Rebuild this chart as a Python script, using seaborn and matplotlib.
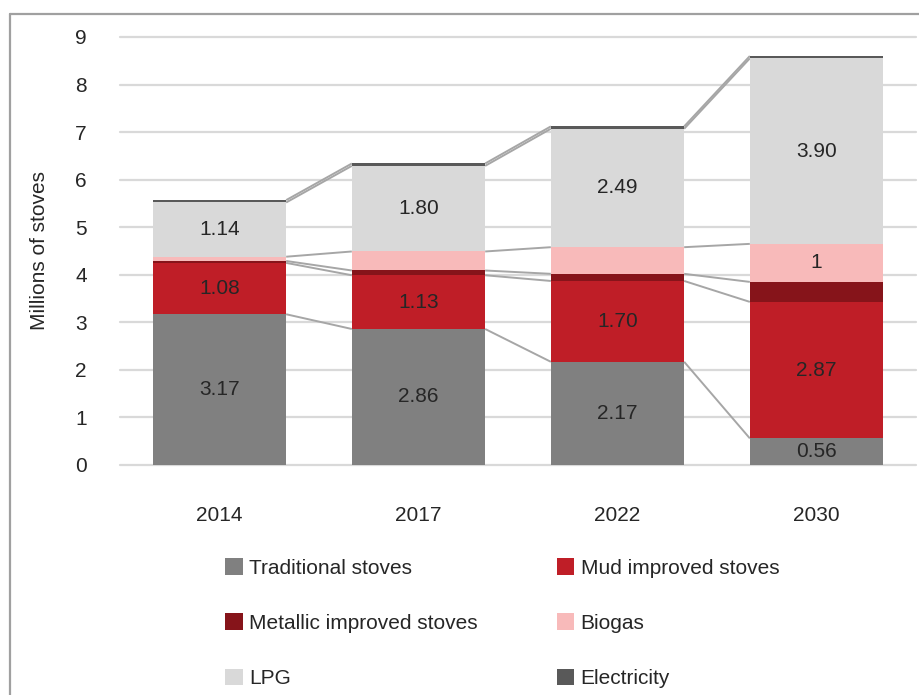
import numpy as np
import pandas as pd
import matplotlib
matplotlib.use("Agg")
import matplotlib.pyplot as plt
from matplotlib.lines import Line2D
from matplotlib.patches import Patch
import seaborn as sns

# Stove stock by type (millions)
years = ["2014", "2017", "2022", "2030"]
traditional = [3.17, 2.86, 2.17, 0.56]
mud_improved = [1.08, 1.13, 1.70, 2.87]
metallic_improved = [0.04, 0.10, 0.15, 0.42]
biogas = [0.09, 0.40, 0.56, 0.80]
lpg = [1.14, 1.80, 2.49, 3.90]
electricity = [0.05, 0.05, 0.05, 0.05]

series_names = ["Traditional stoves", "Mud improved stoves", "Metallic improved stoves",
                "Biogas", "LPG", "Electricity"]
series_values = [traditional, mud_improved, metallic_improved, biogas, lpg, electricity]
colors = ["#808080", "#BF1E27", "#86141A", "#F8BABA", "#D9D9D9", "#595959"]

sns.set_theme(style="white")
plt.rcParams["font.family"] = ["Liberation Sans", "DejaVu Sans"]
text_color = "#262626"
fs = 15

fig = plt.figure(figsize=(9.2, 6.95), dpi=100)
ax = fig.add_axes([120 / 920, (695 - 465) / 695, 796 / 920, 428 / 695])

df = pd.DataFrame({name: vals for name, vals in zip(series_names, series_values)}, index=years)
cum = df.cumsum(axis=1)

bar_w = 0.67
# Stacked bars: draw cumulative totals from the top series down so each layer overlays
for name, col in reversed(list(zip(series_names, colors))):
    sns.barplot(x=years, y=cum[name].values, color=col, width=bar_w,
                saturation=1, ax=ax, zorder=3, linewidth=0)

# Series lines joining the top of each layer between neighbouring bars
for name in series_names:
    tops = cum[name].values
    for i in range(len(years) - 1):
        ax.plot([i + bar_w / 2, i + 1 - bar_w / 2], [tops[i], tops[i + 1]],
                color="#A6A6A6", lw=1.4, zorder=2, solid_capstyle="butt")

# Value labels centred in their segments
labelled = {"Traditional stoves": [0, 1, 2, 3], "Mud improved stoves": [0, 1, 2, 3],
            "LPG": [0, 1, 2, 3], "Biogas": [3]}
for name, idxs in labelled.items():
    for i in idxs:
        v = df[name].iloc[i]
        mid = cum[name].iloc[i] - v / 2
        txt = f"{v:.0f}" if name == "Biogas" else f"{v:.2f}"
        ax.text(i, mid, txt, ha="center", va="center", fontsize=fs, color=text_color, zorder=5)

ax.set_xlim(-0.5, 3.5)
ax.set_ylim(0, 9)
ax.set_yticks(range(0, 10))
for y in range(0, 10):
    ax.axhline(y, color="#D9D9D9", lw=1.6, zorder=1, clip_on=False)
for s in ax.spines.values():
    s.set_visible(False)
ax.tick_params(axis="y", length=0, pad=24, labelsize=fs, labelcolor=text_color)
ax.tick_params(axis="x", length=0, pad=29.5, labelsize=fs, labelcolor=text_color)
ax.set_xlabel("")
ax.set_ylabel("Millions of stoves", fontsize=fs, color=text_color)
ax.yaxis.set_label_coords((49 - 120) / 796, 0.5)

handles = [Patch(facecolor=c, edgecolor="none") for c in colors]
order = [0, 2, 4, 1, 3, 5]
fig.legend([handles[i] for i in order], [series_names[i] for i in order],
           ncol=2, loc="upper left", bbox_to_anchor=(225 / 920, 1 - 558 / 695),
           frameon=False, fontsize=fs, handlelength=0.85, handleheight=0.85,
           handletextpad=0.3, columnspacing=3.8, labelspacing=1.72,
           labelcolor=text_color, borderaxespad=0, borderpad=0)

# Outer frame (top and left edges)
fig.add_artist(Line2D([10 / 920, 1.0], [1 - 14 / 695, 1 - 14 / 695], color="#A0A0A0", lw=1.6))
fig.add_artist(Line2D([10 / 920, 10 / 920], [0, 1 - 14 / 695], color="#A0A0A0", lw=1.6))

fig.savefig("out.png", dpi=100)
